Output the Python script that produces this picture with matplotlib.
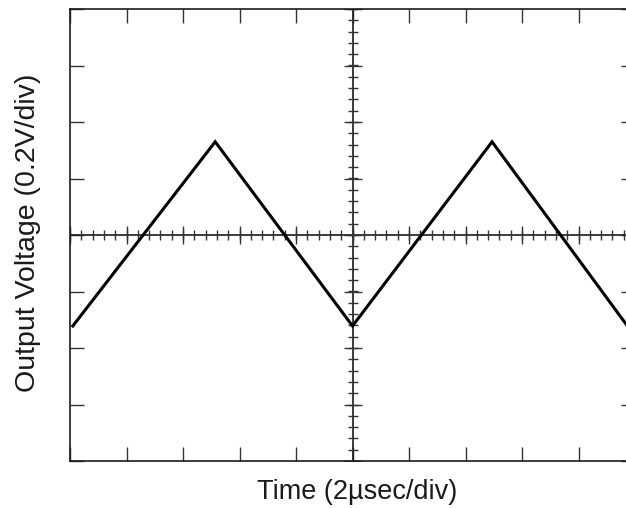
import numpy as np
import matplotlib
matplotlib.use("Agg")
import matplotlib.pyplot as plt

plt.rcParams["font.family"] = ["Liberation Sans", "DejaVu Sans"]

# scope settings
US_PER_DIV = 2.0
V_PER_DIV = 0.2
N_XDIV = 10
N_YDIV = 8

# triangle wave vertices (time in usec, output in volts)
time_us = [0.1, 5.14, 10.0, 14.94, 19.76]
volts = [-0.322, 0.33, -0.322, 0.33, -0.326]

INK = "#1a1a1a"

fig = plt.figure(figsize=(6.26, 5.08), dpi=100)
ax = fig.add_axes([70 / 626, 47 / 508, 565 / 626, 452 / 508])

xmax = N_XDIV * US_PER_DIV
ymax = N_YDIV / 2 * V_PER_DIV
ax.set_xlim(0, xmax)
ax.set_ylim(-ymax, ymax)

for sp in ax.spines.values():
    sp.set_color(INK)
    sp.set_linewidth(1.2)

# graticule ticks on the frame
ax.set_xticks(np.arange(0, xmax + 1e-9, US_PER_DIV))
ax.set_yticks(np.arange(-ymax, ymax + 1e-9, V_PER_DIV))
ax.tick_params(direction="in", length=10, width=1.0, color="#333333",
               top=True, right=True,
               labelbottom=False, labelleft=False)

# center cross with fine subdivisions
xc = xmax / 2
ax.axhline(0, color=INK, lw=1.2, zorder=2)
ax.axvline(xc, color=INK, lw=1.2, zorder=2)

minor_x = np.arange(0, xmax + 1e-9, US_PER_DIV / 5)
minor_y = np.arange(-ymax, ymax + 1e-9, V_PER_DIV / 5)
major_x = np.arange(0, xmax + 1e-9, US_PER_DIV)
major_y = np.arange(-ymax, ymax + 1e-9, V_PER_DIV)

ax.plot(minor_x, np.zeros_like(minor_x), ls="none", marker="|",
        ms=6.5, mew=1.0, color="#333333", zorder=2)
ax.plot(major_x, np.zeros_like(major_x), ls="none", marker="|",
        ms=13, mew=1.0, color="#333333", zorder=2)
ax.plot(np.full_like(minor_y, xc), minor_y, ls="none", marker="_",
        ms=6.5, mew=1.0, color="#333333", zorder=2)
ax.plot(np.full_like(major_y, xc), major_y, ls="none", marker="_",
        ms=13, mew=1.0, color="#333333", zorder=2)

# output waveform
ax.plot(time_us, volts, color="black", lw=2.2, solid_joinstyle="miter", zorder=3)

fig.text(357 / 626, 1 - 492 / 508, "Time (2\u00b5sec/div)",
         ha="center", va="center", fontsize=19.5, color=INK)
fig.text(28 / 626, 1 - 233 / 508, "Output Voltage (0.2V/div)",
         ha="center", va="center", rotation=90, fontsize=20.5, color=INK)

fig.savefig("out.png", dpi=100, facecolor="white")
